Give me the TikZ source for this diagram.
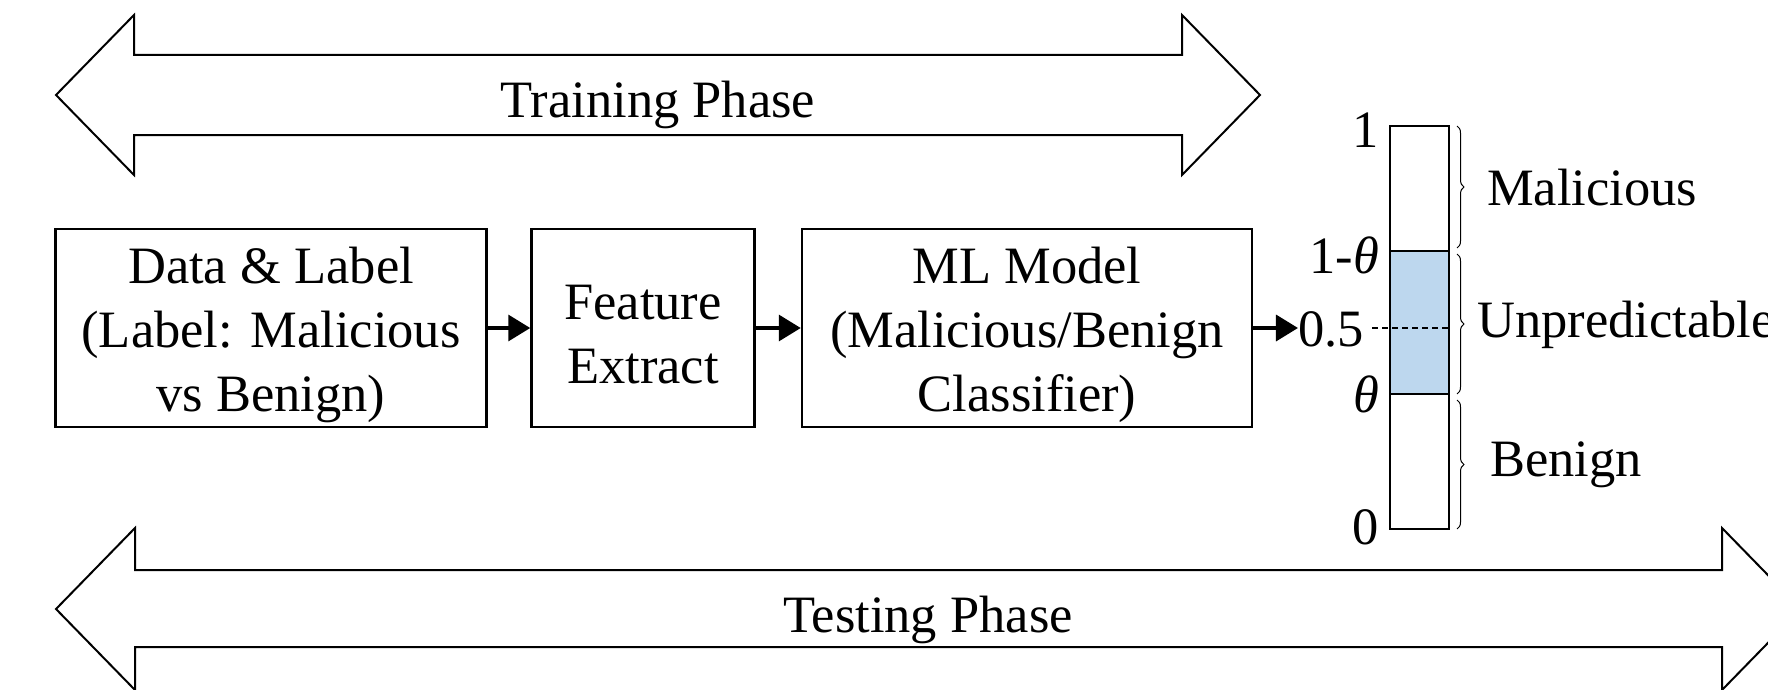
\documentclass[tikz,border=0pt]{standalone}
\usepackage{fontspec}
\setmainfont{Liberation Serif}
\usetikzlibrary{arrows.meta,decorations.pathreplacing}
\definecolor{midband}{HTML}{BDD7EE}
\tikzset{
  procbox/.style={draw, line width=2.5pt, minimum height=198pt, inner sep=0pt},
  boxtext/.style={align=center, inner sep=0pt, yshift=-7pt},
  phase/.style={draw, line width=2pt, line join=miter},
  flow/.style={line width=3.5pt, -{Triangle[length=22pt,width=26pt]}},
  tick/.style={inner sep=0pt},
  brc/.style={decorate, decoration={brace, amplitude=7pt}, line width=1pt},
}
\begin{document}
\begin{tikzpicture}[x=1pt, y=-1pt, font=\fontsize{52.5}{64}\selectfont]
\useasboundingbox (0,0) rectangle (1768,690);

% training phase double arrow
\draw[phase] (56,95) -- (134,15) -- (134,55) -- (1182,55) -- (1182,15) -- (1260,95)
  -- (1182,175) -- (1182,135) -- (134,135) -- (134,175) -- cycle;
\node (train) at (658,105) {Training Phase};

% testing phase double arrow
\draw[phase] (56,609) -- (135,528) -- (135,570) -- (1722,570) -- (1722,528) -- (1801,609)
  -- (1722,690) -- (1722,647) -- (135,647) -- (135,690) -- cycle;
\node (test) at (928,620) {Testing Phase};

% pipeline boxes
\node[procbox, minimum width=431pt] (data) at (271,328) {};
\node[procbox, minimum width=223pt] (feat) at (643,328) {};
\node[procbox, minimum width=450pt] (model) at (1027,328) {};
\node[boxtext] (datatxt) at (data.center) {Data \& Label\\(Label: Malicious\\vs Benign)};
\node[boxtext] (feattxt) at (feat.center) {Feature\\Extract};
\node[boxtext] (modeltxt) at (model.center) {ML Model\\(Malicious/Benign\\Classifier)};

% score bar
\fill[midband] (1390,251) rectangle (1449,394);
\draw[line width=2.5pt] (1390,126) rectangle (1449,529);
\draw[line width=2.5pt] (1390,251) -- (1449,251);
\draw[line width=2.5pt] (1390,394) -- (1449,394);

% tick labels
\node[tick, anchor=east] (t1) at (1379,130) {1};
\node[tick, anchor=east] (t1m) at (1379,255) {1-\textit{θ}};
\node[tick, anchor=east] (thalf) at (1364,329) {0.5};
\node[tick, anchor=east] (tth) at (1379,394) {\textit{θ}};
\node[tick, anchor=east] (t0) at (1379,527) {0};
\coordinate (halfR) at (1449,328);
\draw[line width=1.5pt, dash pattern=on 6pt off 4pt] (thalf.east |- halfR) ++(8pt,0) -- (halfR);

% connectors
\draw[flow] (data.east |- 0,328) -- (feat.west |- 0,328);
\draw[flow] (feat.east |- 0,328) -- (model.west |- 0,328);
\draw[flow] (model.east |- 0,328) -- (thalf.west |- 0,328);

% braces and class labels
\coordinate (b1t) at (1457,126);
\coordinate (b1b) at (1457,248);
\coordinate (b2t) at (1457,254);
\coordinate (b2b) at (1457,394);
\coordinate (b3t) at (1457,400);
\coordinate (b3b) at (1457,529);
\draw[brc] (b1t) -- (b1b);
\draw[brc] (b2t) -- (b2b);
\draw[brc] (b3t) -- (b3b);
\node[tick, anchor=west] (mal) at (1487,188) {Malicious};
\node[tick, anchor=west] (unp) at (1477,325) {Unpredictable};
\node[tick, anchor=west] (ben) at (1490,465) {Benign};
\end{tikzpicture}
\end{document}
